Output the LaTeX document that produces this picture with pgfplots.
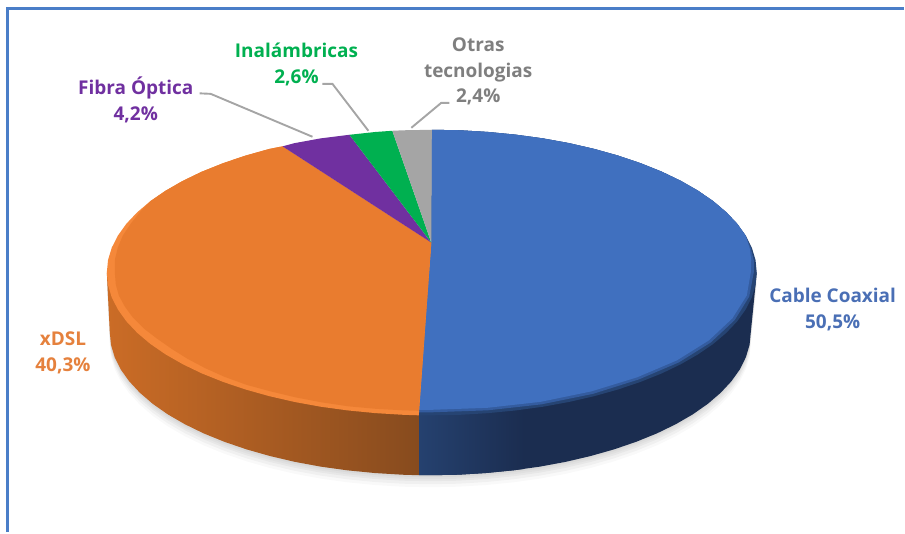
\documentclass[border=0pt]{standalone}
\usepackage{fontspec}
\setmainfont{Open Sans}
\usepackage{pgfplots}
\usepackage{pgfplotstable}
\pgfplotsset{compat=1.18}
\definecolor{cBlue}{HTML}{4070BF}
\definecolor{cBlueMid}{HTML}{345C9F}
\definecolor{cBlueDark}{HTML}{264473}
\definecolor{cNavy}{HTML}{1B2D50}
\definecolor{cNavyL}{HTML}{25416F}
\definecolor{cOrange}{HTML}{E97C2F}
\definecolor{cOrangeLight}{HTML}{F5883A}
\definecolor{cOrangeSideL}{HTML}{CB6C26}
\definecolor{cOrangeSideR}{HTML}{874B1E}
\definecolor{cPurple}{HTML}{7030A0}
\definecolor{cGreen}{HTML}{00B050}
\definecolor{cGray}{HTML}{A5A5A5}
\definecolor{cFrame}{HTML}{4A7EC8}
\definecolor{cGrayText}{HTML}{7F7F7F}
\definecolor{cOrangeText}{HTML}{E5813D}
\definecolor{cBlueText}{HTML}{4A6FB5}
\tikzset{lab/.style={font=\fontsize{19}{26}\selectfont\bfseries, align=center, inner sep=0pt}}

% share of each technology, in %: 50.5 40.3 4.2 2.6 2.4
% outline of the underside of the disc, in pixels of the picture
\pgfplotstableread{
x y
758 273
752 333
750.8 345.5
747.1 357.8
741.1 370
732.6 381.9
721.9 393.4
709 404.5
694 415
676.9 424.9
658 434.1
637.3 442.5
615.1 450.1
591.5 456.8
566.7 462.6
540.8 467.4
514.1 471.1
486.7 473.8
459 475.5
431 476
403 475.5
375.3 473.8
347.9 471.1
321.2 467.4
295.3 462.6
270.5 456.8
246.9 450.1
224.7 442.5
204 434.1
185.1 424.9
168 415
153 404.5
140.1 393.4
129.4 381.9
120.9 370
114.9 357.8
111.2 345.5
110 333
107 273
}\underside

\pgfplotstableread{
x y
432 243
432.5 130
460.9 130.5
489 132.2
516.7 134.9
543.8 138.6
570.1 143.4
595.3 149.2
619.2 155.9
641.7 163.5
662.7 171.9
681.8 181.1
699.1 191
714.4 201.5
727.5 212.6
738.4 224.1
746.9 236
753.1 248.2
756.8 260.5
758 273
756.8 285.5
753.1 297.8
746.9 310
738.4 321.9
727.5 333.4
714.4 344.5
699.1 355
681.8 364.9
662.7 374.1
641.7 382.5
619.2 390.1
595.3 396.8
570.1 402.6
543.8 407.4
516.7 411.1
489 413.8
460.9 415.5
432.5 416
419.5 416
}\blueTop

\pgfplotstableread{
x y
432 243
432.5 130
460.9 130.5
489 132.2
516.7 134.9
543.8 138.6
570.1 143.4
595.3 149.2
619.2 155.9
641.7 163.5
662.7 171.9
681.8 181.1
699.1 191
714.4 201.5
727.5 212.6
738.4 224.1
746.9 236
752 248.5
755 260.5
755 273
750.5 297
736 320.5
712 343
680 363
640 380
594 394.5
542.5 405
488.5 411
432 413
419.6 413
}\blueMid

\pgfplotstableread{
x y
432 243
432.5 130
460.9 130.5
489 132.2
516.7 134.9
543.8 138.6
570.1 143.4
595.3 149.2
619.2 155.9
641.7 163.5
662.7 171.9
681.8 181.1
699.1 191
714.4 201.5
727.5 212.6
738.4 224.1
746.9 236
751 249
752.5 261
752 273
748 296
733.5 319
710 341
678 361
638 378
592.5 392
541.5 402.5
488 408.5
432 410.5
419.6 410.5
}\blueMain

\pgfplotstableread{
x y
432 243
283 146.6
269.7 149.2
245.8 155.9
223.3 163.5
202.3 171.9
183.2 181.1
165.9 191
150.6 201.5
137.5 212.6
126.6 224.1
118.1 236
111.9 248.2
108.2 260.5
107 273
108.2 285.5
111.9 297.8
118.1 310
126.6 321.9
137.5 333.4
150.6 344.5
165.9 355
183.2 364.9
202.3 374.1
223.3 382.5
245.8 390.1
269.7 396.8
294.9 402.6
321.2 407.4
348.3 411.1
376 413.8
404.1 415.5
419.5 416
}\orangeTop

\pgfplotstableread{
x y
432 243
283 146.6
269.7 149.2
245.8 155.9
223.3 163.5
202.3 171.9
183.2 181.1
165.9 191
150.6 201.5
140 212.6
131 224
123 236
118 248
115 260.5
115 273
116 285
119 296
125 307
133 318
144 329
157 339
172 349.5
188 359.5
206 369
225 377.5
247 385.5
271 392
296 398
322 403
349 407
376.5 409.5
404 411
419.6 411.5
}\orangeMain

\begin{document}
\begin{tikzpicture}
\begin{axis}[
  scale only axis,
  width=905pt, height=533pt,
  xmin=0, xmax=905, ymin=0, ymax=533,
  y dir=reverse,
  hide axis,
  clip=false,
]
% keeps the whole page
\addplot[draw=none] coordinates {(0,0) (905,533)};

% frame
\addplot[cFrame, line width=3pt] coordinates {(8,533) (8,9) (905,9)};

% soft shadow under the disc
\addplot[draw=none, fill=black, fill opacity=0.035] table[x=x, y expr=\thisrow{y}+2] {\underside} --cycle;
\addplot[draw=none, fill=black, fill opacity=0.035] table[x=x, y expr=\thisrow{y}+4] {\underside} --cycle;
\addplot[draw=none, fill=black, fill opacity=0.035] table[x=x, y expr=\thisrow{y}+6] {\underside} --cycle;
\addplot[draw=none, fill=black, fill opacity=0.035] table[x=x, y expr=\thisrow{y}+9] {\underside} --cycle;
\addplot[draw=none, fill=black, fill opacity=0.025] table[x=x, y expr=\thisrow{y}+12] {\underside} --cycle;

% sides
\addplot[draw=none, fill=cNavy] coordinates {
  (419.5,476) (431,476) (459,475.5) (486.7,473.8) (514.1,471.1) (540.8,467.4) (566.7,462.6)
  (591.5,456.8) (615.1,450.1) (637.3,442.5) (658,434.1) (676.9,424.9) (694,415) (709,404.5)
  (721.9,393.4) (732.6,381.9) (741.1,370) (747.1,357.8) (750.8,345.5) (752,333) (758,273) (419.5,273)
} --cycle;
\addplot[draw=none, left color=cNavyL, right color=cNavy] coordinates {
  (419.5,476) (431,476) (459,475.5) (486.7,473.8) (514.1,471.1) (525,469.7) (525,350) (419.5,350)
} --cycle;
\addplot[draw=none, left color=cOrangeSideL, right color=cOrangeSideR] coordinates {
  (419.5,476) (403,475.5) (375.3,473.8) (347.9,471.1) (321.2,467.4) (295.3,462.6) (270.5,456.8)
  (246.9,450.1) (224.7,442.5) (204,434.1) (185.1,424.9) (168,415) (153,404.5) (140.1,393.4)
  (129.4,381.9) (120.9,370) (114.9,357.8) (111.2,345.5) (110,333) (107,273) (419.5,273)
} --cycle;

% top face
\addplot[draw=none, fill=cBlueDark] table {\blueTop} --cycle;
\addplot[draw=none, fill=cBlueMid] table {\blueMid} --cycle;
\addplot[draw=none, fill=cBlue] table {\blueMain} --cycle;
\addplot[draw=none, fill=cOrangeLight] table {\orangeTop} --cycle;
\addplot[draw=none, fill=cOrange] table {\orangeMain} --cycle;
\addplot[draw=none, fill=cPurple] coordinates {(432,243) (350,135) (321.2,138.6) (294.9,143.4) (283,146.6)} --cycle;
\addplot[draw=none, fill=cGreen] coordinates {(432,243) (393,131) (376,132.2) (350,135)} --cycle;
\addplot[draw=none, fill=cGray] coordinates {(432,243) (432.5,130) (404.1,130.5) (393,131)} --cycle;

% leader lines
\addplot[cGray, line width=1.9pt] coordinates {(200,93.5) (211,94) (313,137)};
\addplot[cGray, line width=1.9pt] coordinates {(323,84) (333,84) (369,131)};
\addplot[cGray, line width=1.9pt] coordinates {(412,128) (442,103) (450,103)};

% labels
\node[lab, text=cPurple] at (axis cs:136,100) {Fibra Óptica\\4,2\%};
\node[lab, text=cGreen] at (axis cs:297,64.5) {Inalámbricas\\2,6\%};
\node[lab, text=cGrayText] at (axis cs:479,71.5) {Otras\\tecnologias\\2,4\%};
\node[lab, text=cOrangeText] at (axis cs:63,353) {xDSL\\40,3\%};
\node[lab, text=cBlueText] at (axis cs:834,310) {Cable Coaxial\\50,5\%};
\end{axis}
\end{tikzpicture}
\end{document}
